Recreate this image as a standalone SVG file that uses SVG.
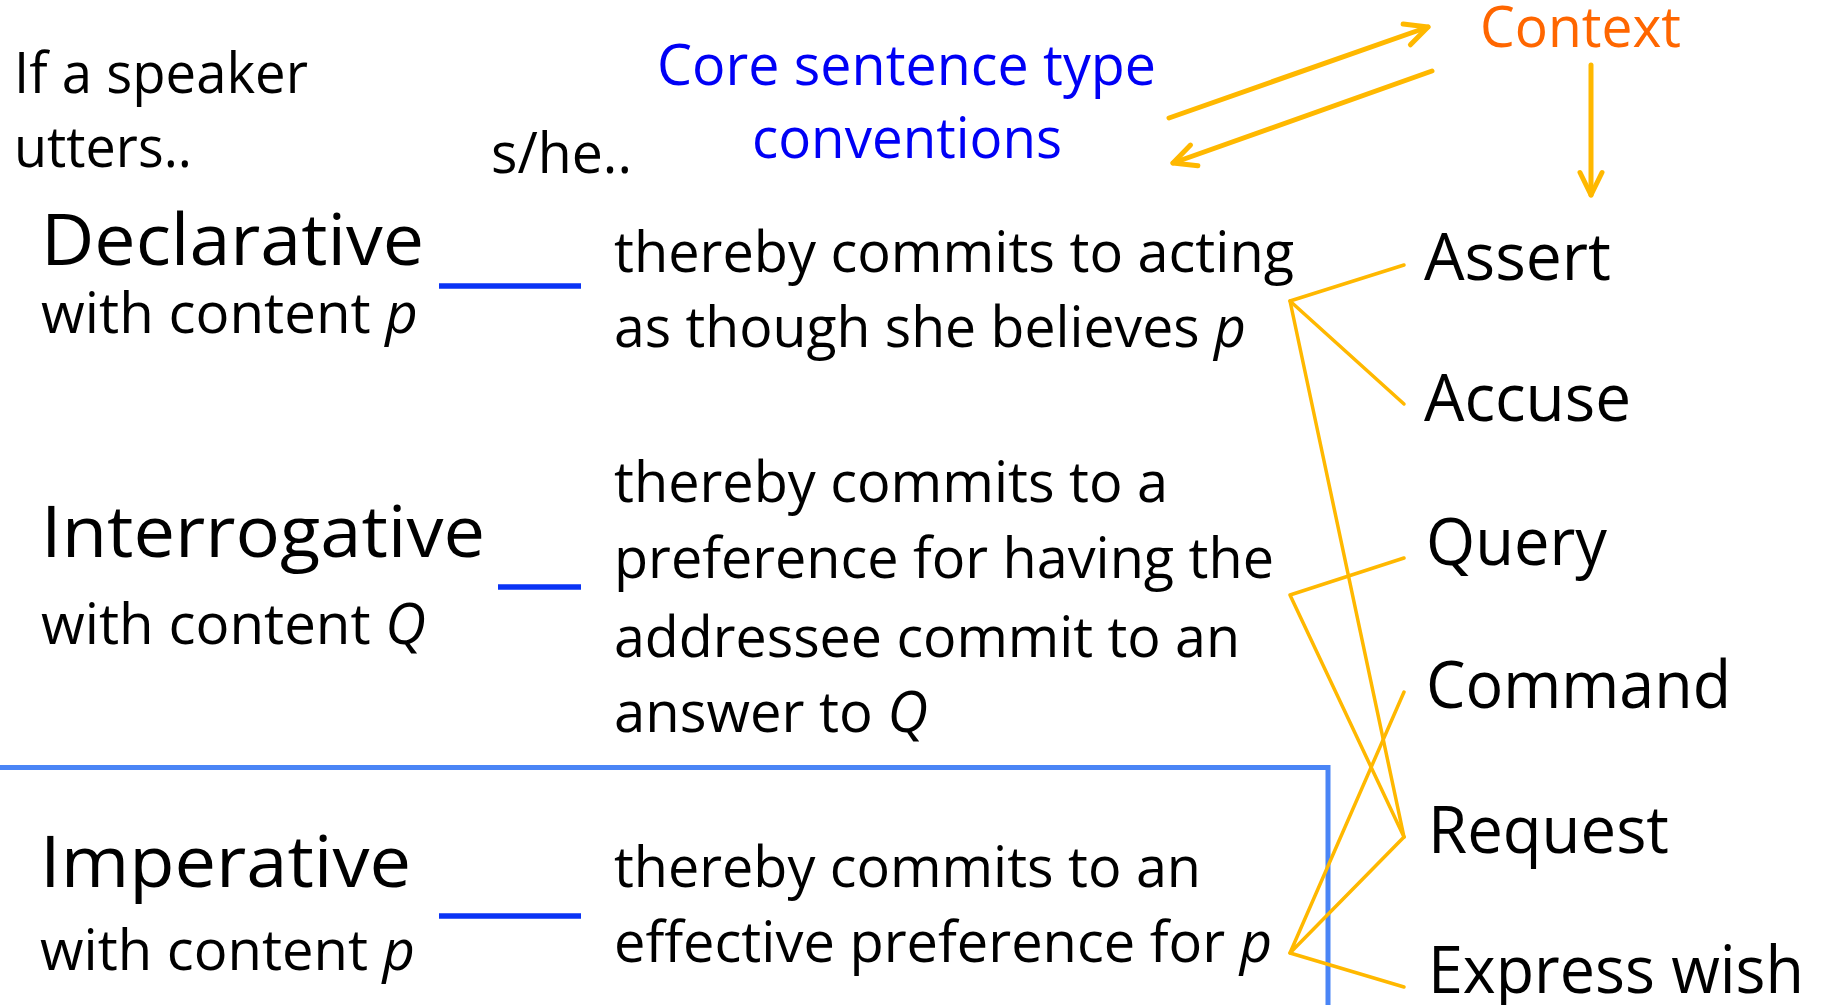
<svg xmlns="http://www.w3.org/2000/svg" width="1825" height="1005" viewBox="0 0 1825 1005">
  <style>
    text { font-family: "Open Sans", "Liberation Sans", sans-serif; fill: #000; }
    .body { font-size: 57px; }
    .head { font-size: 72px; }
    .act { font-size: 66px; }
    .conv { fill: #0000F5; }
    .ctx { fill: #FF6600; }
    .it { font-style: italic; }
    .rule { stroke: #0A33F5; stroke-width: 5.5; fill: none; }
    .frame { stroke: #4A85F6; stroke-width: 5; fill: none; }
    .link { stroke: #FFB800; stroke-width: 3.5; fill: none; stroke-linecap: round; stroke-linejoin: round; }
    .flow { stroke: #FFB800; stroke-width: 5; fill: none; stroke-linecap: round; }
  </style>
  <defs>
    <marker id="vhead" markerUnits="userSpaceOnUse" viewBox="-30 -16 36 32" refX="0" refY="0" markerWidth="36" markerHeight="32" orient="auto" overflow="visible">
      <path d="M-22.5,-11 L0,0 L-22.5,11" fill="none" stroke="#FFB800" stroke-width="5" stroke-linecap="round" stroke-linejoin="round"/>
    </marker>
  </defs>

  <rect width="1825" height="1005" fill="#fff"/>

  <!-- column headers -->
  <g id="hdr-utters">
    <text class="body" x="14" y="93" textLength="294" lengthAdjust="spacingAndGlyphs">If a speaker</text>
    <text class="body" x="14" y="167" textLength="178" lengthAdjust="spacingAndGlyphs">utters..</text>
  </g>
  <g id="hdr-she">
    <text class="body" x="491" y="173" textLength="141" lengthAdjust="spacingAndGlyphs">s/he..</text>
  </g>
  <g id="conventions">
    <text class="body conv" x="657" y="85" textLength="499" lengthAdjust="spacingAndGlyphs">Core sentence type</text>
    <text class="body conv" x="752" y="158" textLength="310" lengthAdjust="spacingAndGlyphs">conventions</text>
  </g>
  <g id="context">
    <text class="body ctx" x="1480" y="47" textLength="201" lengthAdjust="spacingAndGlyphs">Context</text>
  </g>

  <!-- imperative frame -->
  <path class="frame" d="M0,767.5 H1328 V1005"/>

  <!-- sentence types -->
  <g id="declarative">
    <text class="head" x="41" y="265" textLength="383" lengthAdjust="spacingAndGlyphs">Declarative</text>
    <text class="body" x="41" y="333" textLength="377" lengthAdjust="spacingAndGlyphs">with content <tspan class="it">p</tspan></text>
    <line class="rule" x1="439" y1="286" x2="581" y2="286"/>
  </g>
  <g id="interrogative">
    <text class="head" x="41" y="557" textLength="444" lengthAdjust="spacingAndGlyphs">Interrogative</text>
    <text class="body" x="41" y="644" textLength="385" lengthAdjust="spacingAndGlyphs">with content <tspan class="it">Q</tspan></text>
    <line class="rule" x1="498" y1="587" x2="581" y2="587"/>
  </g>
  <g id="imperative">
    <text class="head" x="40" y="887" textLength="371" lengthAdjust="spacingAndGlyphs">Imperative</text>
    <text class="body" x="40" y="970" textLength="375" lengthAdjust="spacingAndGlyphs">with content <tspan class="it">p</tspan></text>
    <line class="rule" x1="439" y1="916" x2="581" y2="916"/>
  </g>

  <!-- commitments -->
  <g id="commit-declarative">
    <text class="body" x="614" y="272" textLength="680" lengthAdjust="spacingAndGlyphs">thereby commits to acting</text>
    <text class="body" x="614" y="347" textLength="632" lengthAdjust="spacingAndGlyphs">as though she believes <tspan class="it">p</tspan></text>
  </g>
  <g id="commit-interrogative">
    <text class="body" x="614" y="502" textLength="554" lengthAdjust="spacingAndGlyphs">thereby commits to a</text>
    <text class="body" x="614" y="578" textLength="660" lengthAdjust="spacingAndGlyphs">preference for having the</text>
    <text class="body" x="614" y="657" textLength="626" lengthAdjust="spacingAndGlyphs">addressee commit to an</text>
    <text class="body" x="614" y="732" textLength="314" lengthAdjust="spacingAndGlyphs">answer to <tspan class="it">Q</tspan></text>
  </g>
  <g id="commit-imperative">
    <text class="body" x="614" y="887" textLength="587" lengthAdjust="spacingAndGlyphs">thereby commits to an</text>
    <text class="body" x="614" y="962" textLength="658" lengthAdjust="spacingAndGlyphs">effective preference for <tspan class="it">p</tspan></text>
  </g>

  <!-- speech acts -->
  <g id="act-assert"><text class="act" x="1424" y="280" textLength="187" lengthAdjust="spacingAndGlyphs">Assert</text></g>
  <g id="act-accuse"><text class="act" x="1424" y="421" textLength="207" lengthAdjust="spacingAndGlyphs">Accuse</text></g>
  <g id="act-query"><text class="act" x="1426" y="565" textLength="181" lengthAdjust="spacingAndGlyphs">Query</text></g>
  <g id="act-command"><text class="act" x="1426" y="708" textLength="305" lengthAdjust="spacingAndGlyphs">Command</text></g>
  <g id="act-request"><text class="act" x="1428" y="853" textLength="241" lengthAdjust="spacingAndGlyphs">Request</text></g>
  <g id="act-wish"><text class="act" x="1428" y="993" textLength="376" lengthAdjust="spacingAndGlyphs">Express wish</text></g>

  <!-- connectors -->
  <g id="connectors">
    <!-- context interplay -->
    <line class="flow" x1="1169" y1="118" x2="1428" y2="27" marker-end="url(#vhead)"/>
    <line class="flow" x1="1432" y1="71" x2="1173" y2="163" marker-end="url(#vhead)"/>
    <line class="flow" x1="1591" y1="65" x2="1591" y2="195" marker-end="url(#vhead)"/>
    <!-- declarative -->
    <polyline class="link" points="1404,265 1290,301 1404,404"/>
    <line class="link" x1="1290" y1="301" x2="1404" y2="837"/>
    <!-- interrogative -->
    <polyline class="link" points="1404,558 1290,595 1404,837"/>
    <!-- imperative -->
    <polyline class="link" points="1404,692 1290,953 1404,837"/>
    <line class="link" x1="1290" y1="953" x2="1404" y2="987"/>
  </g>
</svg>
